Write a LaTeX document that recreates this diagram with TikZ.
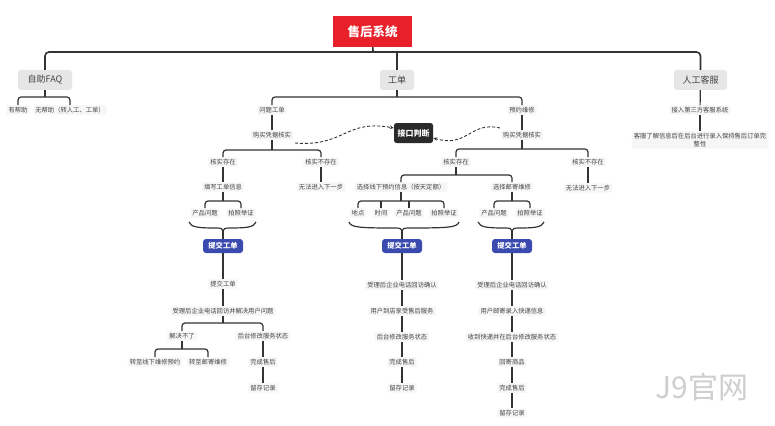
\documentclass[tikz,border=0pt]{standalone}
\usepackage{fontspec}
\setmainfont{Noto Sans CJK SC}
\usetikzlibrary{arrows.meta}
\definecolor{ln}{HTML}{333333}
\definecolor{txt}{HTML}{444444}
\definecolor{lblbg}{HTML}{F6F6F6}
\definecolor{topbg}{HTML}{E6E6E6}
\definecolor{rootred}{HTML}{E8202A}
\definecolor{subblue}{HTML}{3A4AAE}
\definecolor{judgebg}{HTML}{2A2A2A}
\definecolor{wm}{HTML}{CFCFCF}
\newcommand\mybrace[3]{%
  \draw[conn] (#1,222) .. controls ({#1+2},227.5) and ({#1+10},228) .. ({#2-6},228)
    .. controls ({#2-2},228) and (#2,229) .. (#2,231)
    .. controls (#2,229) and ({#2+2},228) .. ({#2+6},228)
    .. controls ({#3-10},228) and ({#3-2},227.5) .. (#3,222);}
\begin{document}
\begin{tikzpicture}[x=1pt,y=-1pt,
  lbl/.style={font=\fontsize{6.3}{7.6}\selectfont, text=txt, fill=lblbg, inner xsep=2pt, inner ysep=1.8pt, rounded corners=1pt},
  topbox/.style={font=\fontsize{9}{10}\selectfont, text=txt, fill=topbg, rounded corners=3pt, minimum height=20pt, inner xsep=6pt},
  rootbox/.style={font=\bfseries\fontsize{12.5}{14}\selectfont, text=white, fill=rootred, minimum width=79pt, minimum height=31pt},
  subbox/.style={font=\bfseries\fontsize{7.3}{8}\selectfont, text=white, fill=subblue, rounded corners=3pt, minimum width=40pt, minimum height=14pt, inner sep=1pt},
  judgebox/.style={font=\bfseries\fontsize{8}{9}\selectfont, text=white, fill=judgebg, rounded corners=2.5pt, minimum width=39pt, minimum height=20pt, inner sep=1pt},
  conn/.style={draw=ln, line width=1.2pt},
  mainconn/.style={draw=ln, line width=1.6pt, rounded corners=4pt},
  brk/.style={conn, rounded corners=3pt},
  dasharrow/.style={draw=ln, line width=0.9pt, dash pattern=on 3pt off 2pt, -{Stealth[length=4pt,width=3.5pt]}}
]
\useasboundingbox (0,0) rectangle (775,425);
\fill[white] (0,0) rectangle (775,425);

% top level
\node[rootbox] (root) at (372.5,31.5) {售后系统};
\node[topbox, minimum width=54pt] (faq) at (45,80) {自助FAQ};
\node[topbox, minimum width=34pt] (gd) at (397,80) {工单};
\node[topbox, minimum width=53pt] (rg) at (700.5,80) {人工客服};
\coordinate (bus) at (373,52);
\draw[mainconn] (faq.north) |- (bus) -| (rg.north);
\draw[conn, line width=1.6pt] (root) -- (bus);
\draw[conn, line width=1.6pt] (gd) -- (gd |- bus);

% FAQ
\node[lbl] (faq1) at (18,110) {有帮助};
\node[lbl] (faq2) at (70,110) {无帮助（转人工、工单）};
\coordinate (bf) at (45,97);
\draw[brk] (faq1.north) |- (bf) -| (faq2.north);
\draw[conn] (faq) -- (bf);

% 人工客服
\node[lbl] (k1) at (700,110) {接入第三方客服系统};
\node[lbl, align=center] (k2) at (700,140) {客服了解信息后在后台进行录入保持售后订单完\\整性};
\draw[conn] (rg) -- (k1);
\draw[conn] (k1) -- (k2);

% 工单
\node[lbl] (wt) at (272,110) {问题工单};
\node[lbl] (yy) at (522,110) {预约维修};
\coordinate (bg) at (397,97);
\draw[brk] (wt.north) |- (bg) -| (yy.north);
\draw[conn] (gd) -- (bg);

\node[lbl] (gm1) at (272,135) {购买凭据核实};
\node[lbl] (gm2) at (522,135) {购买凭据核实};
\draw[conn] (wt) -- (gm1);
\draw[conn] (yy) -- (gm2);
\node[judgebox] (jd) at (413.5,133) {接口判断};
\coordinate (d1) at (295,143);
\coordinate (d2) at (500,128);
\draw[dasharrow] (d1) .. controls (345,147) and (345,119) .. ([yshift=5pt]jd.west);
\draw[dasharrow] (d2) .. controls (470,121) and (468,148) .. ([yshift=-5pt]jd.east);

% left branch
\node[lbl] (e1) at (223,162) {核实存在};
\node[lbl] (n1) at (321,162) {核实不存在};
\coordinate (bl1) at (272,150);
\draw[brk] (e1.north) |- (bl1) -| (n1.north);
\draw[conn] (gm1) -- (bl1);
\node[lbl] (tx) at (223,187) {填写工单信息};
\node[lbl] (wf1) at (321,187) {无法进入下一步};
\draw[conn] (e1) -- (tx);
\draw[conn] (n1) -- (wf1);
\node[lbl] (cp1) at (205,213) {产品问题};
\node[lbl] (pz1) at (241,213) {拍照举证};
\coordinate (bl2) at (223,201);
\draw[brk] (cp1.north) |- (bl2) -| (pz1.north);
\draw[conn] (tx) -- (bl2);
\mybrace{189}{223}{256}
\coordinate (bt1) at (223,231);
\node[subbox] (sb1) at (223,246) {提交工单};
\draw[conn] (bt1) -- (sb1);

\node[lbl] (t1) at (223,284) {提交工单};
\node[lbl] (t2) at (223,311) {受理后企业电话回访并解决用户问题};
\draw[conn] (sb1) -- (t1);
\draw[conn] (t1) -- (t2);
\node[lbl] (jj) at (182,336) {解决不了};
\node[lbl] (ht1) at (263,336) {后台修改服务状态};
\coordinate (bl3) at (223,323);
\draw[brk] (jj.north) |- (bl3) -| (ht1.north);
\draw[conn] (t2) -- (bl3);
\node[lbl] (zx) at (155,362) {转至线下维修预约};
\node[lbl] (zy) at (208,362) {转至邮寄维修};
\coordinate (bl4) at (182,349);
\draw[brk] (zx.north) |- (bl4) -| (zy.north);
\draw[conn] (jj) -- (bl4);
\node[lbl] (wc1) at (263,362) {完成售后};
\node[lbl] (lc1) at (263,388) {留存记录};
\draw[conn] (ht1) -- (wc1);
\draw[conn] (wc1) -- (lc1);

% right branch (预约维修)
\node[lbl] (e2) at (456,162) {核实存在};
\node[lbl] (n2) at (588,162) {核实不存在};
\coordinate (bm1) at (522,149);
\draw[brk] (e2.north) |- (bm1) -| (n2.north);
\draw[conn] (gm2) -- (bm1);
\node[lbl] (wf2) at (588,188) {无法进入下一步};
\draw[conn] (n2) -- (wf2);
\node[lbl] (xx) at (401,187) {选择线下预约信息（按天定额）};
\node[lbl] (xy) at (512,187) {选择邮寄维修};
\coordinate (bm2) at (456,175);
\draw[brk] (xx.north) |- (bm2) -| (xy.north);
\draw[conn] (e2) -- (bm2);

\node[lbl] (dd) at (358,213) {地点};
\node[lbl] (sj) at (381,213) {时间};
\node[lbl] (cp2) at (409,213) {产品问题};
\node[lbl] (pz2) at (444,213) {拍照举证};
\coordinate (bm3) at (401,201);
\draw[brk] (dd.north) |- (bm3) -| (pz2.north);
\draw[conn] (sj.north) -- (sj.north |- bm3);
\draw[conn] (cp2.north) -- (cp2.north |- bm3);
\draw[conn] (xx) -- (bm3);

\node[lbl] (cp3) at (494,213) {产品问题};
\node[lbl] (pz3) at (530,213) {拍照举证};
\coordinate (bm4) at (512,201);
\draw[brk] (cp3.north) |- (bm4) -| (pz3.north);
\draw[conn] (xy) -- (bm4);

\mybrace{349}{402}{459}
\mybrace{478}{512}{544}
\coordinate (bt2) at (402,231);
\coordinate (bt3) at (512,231);
\node[subbox] (sb2) at (402,246) {提交工单};
\node[subbox] (sb3) at (512,246) {提交工单};
\draw[conn] (bt2) -- (sb2);
\draw[conn] (bt3) -- (sb3);

\node[lbl] (m1) at (402,285) {受理后企业电话回访确认};
\node[lbl] (m2) at (402,311) {用户到店享受售后服务};
\node[lbl] (m3) at (402,337) {后台修改服务状态};
\node[lbl] (m4) at (402,362) {完成售后};
\node[lbl] (m5) at (402,388) {留存记录};
\draw[conn] (sb2) -- (m1);
\draw[conn] (m1) -- (m2);
\draw[conn] (m2) -- (m3);
\draw[conn] (m3) -- (m4);
\draw[conn] (m4) -- (m5);

\node[lbl] (r1) at (512,285) {受理后企业电话回访确认};
\node[lbl] (r2) at (512,311) {用户邮寄录入快递信息};
\node[lbl] (r3) at (512,337) {收到快递并在后台修改服务状态};
\node[lbl] (r4) at (512,362) {回寄商品};
\node[lbl] (r5) at (512,388) {完成售后};
\node[lbl] (r6) at (512,413) {留存记录};
\draw[conn] (sb3) -- (r1);
\draw[conn] (r1) -- (r2);
\draw[conn] (r2) -- (r3);
\draw[conn] (r3) -- (r4);
\draw[conn] (r4) -- (r5);
\draw[conn] (r5) -- (r6);

% watermark
\node[font=\fontsize{30}{32}\selectfont, text=wm, anchor=center] (wmk) at (702,387) {J9官网};
\end{tikzpicture}
\end{document}
